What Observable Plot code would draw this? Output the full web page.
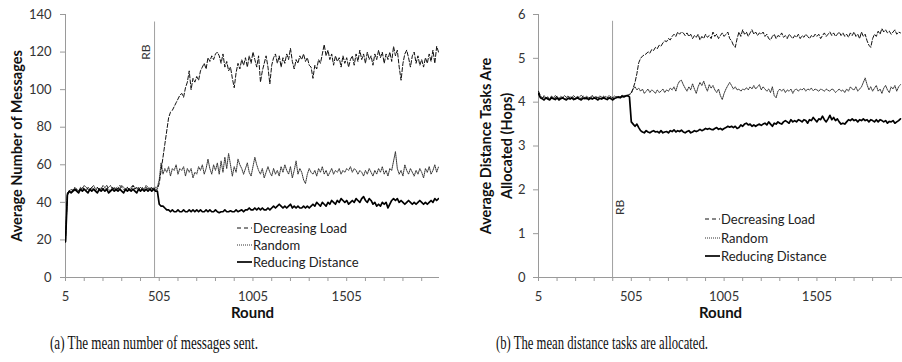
<!DOCTYPE html>
<html><head><meta charset="utf-8">
<script src="https://cdn.jsdelivr.net/npm/d3@7"></script>
<script src="https://cdn.jsdelivr.net/npm/@observablehq/plot@0.6"></script>
<style>
body{margin:0;background:#fff;}
#wrap{position:relative;width:902px;height:362px;overflow:hidden;font-family:Lato,sans-serif;background:#fff;}
.chart{position:absolute;top:0;}
.legend{position:absolute;font-size:13px;color:#222;font-family:Lato,sans-serif;}
.legend .row{display:flex;align-items:center;white-space:nowrap;}
.legend svg{display:block;margin-right:1px;}
#caps{position:absolute;left:0;top:0;}
#caps text{font-family:"Liberation Serif","Times New Roman","DejaVu Serif",serif;}
</style></head><body><div id="wrap"></div>
<script>
// ---------- data (sampled every 10 rounds, starting at round 5) ----------
const roundStart = 5, roundStep = 10;
const seriesNames = ["Decreasing Load", "Random", "Reducing Distance"];
const xMajorTicks = [5, 505, 1005, 1505];
const xMinorTicks = [5,105,205,305,405,505,605,705,805,905,1005,1105,1205,1305,1405,1505,1605,1705,1805,1905];
const msgTicks = [0,20,40,60,80,100,120,140];
const hopTicks = [0,1,2,3,4,5,6];
const captions = ["(a) The mean number of messages sent.", "(b) The mean distance tasks are allocated."];
const msgTitle = "Average Number of Messages";
const hopTitle = ["Average Distance Tasks Are", "Allocated (Hops)"];
const xTitle = "Round";
const msgRB = 480, hopRB = 404;

const msgDecreasing = [19,45,46,45,47,46,47,46,47,48,47,46,48,47,48,47,46,48,47,48,47,48,49,47,46,48,47,48,47,49,48,47,46,48,47,48,49,47,48,47,48,47,46,48,47,48,47,48,47,
47,50,57,64,71,78,85,88,89,91,
93,95,97,98,96,101,104,110,100,106,
104,107,105,110,112,114,111,117,115,118,
116,119,120,118,114,119,112,115,110,112,
106,101,109,114,111,116,113,117,112,118,
114,120,116,112,118,104,110,114,118,112,
103,113,117,119,114,118,112,117,114,119,
116,122,115,111,116,114,118,116,119,115,
117,113,112,106,113,111,116,114,119,124,
118,121,116,119,113,118,115,117,112,118,
114,117,112,116,118,113,119,115,121,116,
119,114,120,116,118,113,119,116,121,117,
120,114,119,116,120,115,123,118,121,112,
105,114,119,121,117,112,118,120,114,118,
113,116,112,117,114,119,115,121,114,123,
120];
const msgRandom = [19,45,46,47,46,48,47,46,48,47,49,48,47,46,48,49,47,48,46,47,49,48,47,48,49,47,48,46,48,47,49,48,47,48,46,47,49,48,47,48,46,48,47,49,48,47,48,47,48,
48,52,61,55,58,56,59,54,58,57,
60,55,58,57,59,54,58,56,58,53,
56,55,59,57,60,55,58,63,58,55,
60,57,61,55,62,56,64,58,66,60,
54,59,56,63,60,58,55,58,61,56,
54,59,64,60,57,55,58,53,56,59,
56,54,58,55,57,54,59,56,60,57,
55,59,53,57,62,55,58,56,52,50,
55,58,56,55,57,54,58,56,59,55,
57,54,56,58,55,57,56,58,55,57,
56,58,57,59,56,58,57,55,57,56,
54,57,55,58,56,54,57,55,58,56,
59,55,57,54,58,57,62,67,58,55,
57,54,60,57,55,58,56,54,57,55,
58,56,53,58,56,59,55,57,60,56,
59];
const msgReducing = [19,44,46,45,46,47,46,45,47,46,47,46,45,47,46,47,46,45,47,46,47,46,47,45,46,47,46,47,46,47,46,45,47,46,47,46,47,46,45,47,46,47,46,47,46,47,46,47,46,
46,39,38,38,37,36,36,35,36,35,
35,36,35,35,36,35,35,36,35,36,
35,36,35,36,35,35,36,35,36,35,
35,36,35,34.5,35,35,36,35,35,35.5,
35,35,36,35,35.5,36,35,36,36,37,
36,36,37,36,37,36,37,36,36,37,
36,37,38,37,38,39,38,37,38,37,
38,39,37,38,37,38,37,37,38,37,
38,37,38,39,38,40,39,38,40,39,
38,40,39,41,40,39,41,40,42,41,
40,41,39,40,41,40,42,41,40,42,
43,41,40,42,41,39,40,38,39,38,
40,39,40,37,39,41,42,41,42,40,
41,40,39,40,41,40,39,40,39,40,
41,40,39,40,39,40,41,40,42,41,
42];

const hopDecreasing = [4.25,4.15,4.1,4.12,4.08,4.1,4.05,4.12,4.08,4.1,4.14,4.07,4.1,4.12,4.06,4.1,4.08,4.13,4.09,4.1,4.06,4.12,4.1,4.08,4.14,4.1,4.07,4.11,4.09,4.13,4.08,4.1,4.12,4.07,4.1,4.14,4.09,4.11,4.08,4.12,4.1,4.07,4.13,4.1,4.12,4.15,4.13,4.16,4.15,
4.17,4.2,4.32,4.45,4.65,4.9,5.0,5.05,5.08,5.1,
5.15,5.12,5.2,5.18,5.25,5.22,5.3,5.28,5.35,5.4,
5.38,5.45,5.42,5.5,5.55,5.5,5.6,5.55,5.6,5.58,
5.52,5.58,5.5,5.55,5.45,5.52,5.48,5.55,5.42,5.5,
5.45,5.55,5.48,5.52,5.45,5.6,5.5,5.55,5.45,5.52,
5.58,5.5,5.55,5.6,5.45,5.4,5.3,5.25,5.45,5.6,
5.5,5.65,5.55,5.6,5.5,5.58,5.65,5.55,5.6,5.52,
5.58,5.55,5.6,5.5,5.55,5.45,5.42,5.5,5.55,5.45,
5.52,5.5,5.58,5.48,5.52,5.45,5.55,5.5,5.45,5.52,
5.48,5.55,5.45,5.52,5.48,5.55,5.5,5.45,5.52,5.48,
5.55,5.5,5.55,5.45,5.52,5.58,5.5,5.55,5.6,5.52,
5.58,5.5,5.55,5.6,5.52,5.58,5.5,5.55,5.48,5.58,
5.52,5.6,5.5,5.55,5.45,5.6,5.5,5.55,5.4,5.3,
5.25,5.45,5.55,5.5,5.62,5.55,5.68,5.6,5.65,5.58,
5.62,5.55,5.6,5.65,5.55,5.6,5.58];
const hopRandom = [4.2,4.12,4.08,4.15,4.1,4.12,4.08,4.14,4.1,4.15,4.12,4.08,4.13,4.1,4.15,4.11,4.14,4.09,4.12,4.15,4.1,4.13,4.11,4.16,4.12,4.1,4.14,4.09,4.12,4.15,4.11,4.13,4.1,4.14,4.12,4.09,4.13,4.11,4.15,4.12,4.1,4.14,4.11,4.13,4.12,4.16,4.14,4.15,4.16,
4.18,4.22,4.3,4.35,4.28,4.32,4.25,4.3,4.2,4.25,
4.3,4.22,4.28,4.25,4.2,4.28,4.22,4.25,4.3,4.22,
4.28,4.25,4.32,4.28,4.35,4.25,4.4,4.48,4.5,4.4,
4.32,4.25,4.35,4.28,4.42,4.3,4.2,4.35,4.45,4.38,
4.48,4.35,4.25,4.4,4.32,4.38,4.28,4.22,4.3,4.15,
4.06,4.2,4.3,4.38,4.45,4.38,4.3,4.35,4.28,4.3,
4.25,4.3,4.28,4.33,4.28,4.35,4.3,4.38,4.3,4.35,
4.4,4.28,4.35,4.3,4.25,4.3,4.22,4.35,4.15,4.1,
4.25,4.3,4.25,4.3,4.22,4.28,4.25,4.3,4.2,4.28,
4.3,4.25,4.3,4.28,4.32,4.25,4.3,4.28,4.32,4.26,
4.3,4.28,4.25,4.3,4.28,4.25,4.3,4.27,4.25,4.3,
4.28,4.22,4.26,4.3,4.25,4.28,4.22,4.3,4.25,4.35,
4.3,4.28,4.35,4.25,4.3,4.35,4.45,4.55,4.4,4.28,
4.35,4.25,4.32,4.38,4.25,4.3,4.2,4.32,4.38,4.28,
4.22,4.35,4.3,4.38,4.25,4.35,4.4];
const hopReducing = [4.2,4.1,4.08,4.05,4.1,4.07,4.05,4.1,4.08,4.06,4.1,4.05,4.08,4.1,4.07,4.05,4.09,4.07,4.1,4.06,4.08,4.1,4.07,4.05,4.09,4.08,4.1,4.06,4.09,4.07,4.1,4.08,4.05,4.09,4.07,4.1,4.08,4.06,4.1,4.08,4.05,4.09,4.1,4.12,4.1,4.13,4.12,4.14,4.15,
4.12,3.55,3.5,3.45,3.5,3.42,3.35,3.32,3.3,3.35,
3.32,3.3,3.33,3.35,3.32,3.33,3.3,3.35,3.3,3.32,
3.33,3.3,3.35,3.33,3.37,3.32,3.35,3.33,3.36,3.32,
3.3,3.33,3.35,3.3,3.32,3.35,3.33,3.35,3.38,3.35,
3.37,3.4,3.38,3.4,3.38,3.37,3.4,3.42,3.38,3.4,
3.37,3.4,3.42,3.45,3.43,3.45,3.42,3.45,3.4,3.42,
3.48,3.45,3.5,3.52,3.48,3.5,3.45,3.48,3.45,3.48,
3.5,3.47,3.5,3.52,3.48,3.55,3.5,3.45,3.52,3.5,
3.55,3.52,3.5,3.55,3.58,3.55,3.52,3.6,3.55,3.58,
3.55,3.6,3.58,3.55,3.6,3.58,3.52,3.6,3.58,3.65,
3.6,3.55,3.62,3.6,3.68,3.6,3.55,3.62,3.7,3.6,
3.65,3.58,3.62,3.55,3.5,3.52,3.5,3.55,3.6,3.58,
3.62,3.58,3.6,3.55,3.6,3.58,3.62,3.58,3.6,3.55,
3.6,3.58,3.55,3.6,3.55,3.6,3.58,3.55,3.58,3.52,
3.56,3.55,3.58,3.52,3.55,3.58,3.62];

// ---------- drawing ----------
const pts = arr => arr.map((v, i) => ({round: roundStart + i * roundStep, v}));
const styles = {
  "Decreasing Load": {stroke: "#111", strokeWidth: 1, strokeDasharray: "4,2"},
  "Random": {stroke: "#333", strokeWidth: 1, strokeDasharray: "1,1"},
  "Reducing Distance": {stroke: "#000", strokeWidth: 1.7, strokeDasharray: null}
};
const axisGray = "#9a9a9a";

function makeChart(o) {
  const lines = [["Random", o.random], ["Decreasing Load", o.decreasing], ["Reducing Distance", o.reducing]]
    .map(([name, arr]) => Plot.line(pts(arr), {x: "round", y: "v", clip: true, ...styles[name]}));
  const titleMarks = o.title.map((t, i) => Plot.text([t], {
    frameAnchor: "left", dx: o.titleDx[i], rotate: -90, textAnchor: "middle", lineAnchor: "middle",
    fontWeight: "bold", fontSize: 14.5, fill: "#111"
  }));
  return Plot.plot({
    width: o.width, height: 320,
    marginLeft: o.marginLeft, marginRight: o.marginRight, marginTop: 14, marginBottom: 43,
    style: {fontFamily: "Lato, sans-serif", fontSize: "13px", color: "#333", background: "transparent", overflow: "visible"},
    x: {domain: o.xDomain},
    y: {domain: o.yDomain},
    marks: [
      Plot.axisX({ticks: xMinorTicks, tickSize: 4, tickFormat: () => "", stroke: axisGray, label: null}),
      Plot.axisX({ticks: xMajorTicks, tickSize: 0, tickPadding: 14, tickFormat: d => String(d), label: null, fill: "#333"}),
      Plot.axisY({ticks: o.yTicks, tickSize: 5, tickPadding: o.yPad, tickFormat: d => String(d), label: null, stroke: axisGray, fill: "#333"}),
      Plot.ruleY([0], {stroke: axisGray}),
      Plot.ruleX([o.xDomain[0]], {stroke: axisGray}),
      Plot.ruleX([o.rb], {y1: 0, y2: o.rbTop, stroke: "#a0a0a0", strokeWidth: 1}),
      Plot.text([{x: o.rb, y: o.rbLabelY}], {x: "x", y: "y", text: () => "RB", rotate: -90, dx: o.rbDx, fontSize: 12, fill: "#333"}),
      ...lines,
      ...titleMarks,
      Plot.text([xTitle], {frameAnchor: "bottom", dy: 35.5, lineAnchor: "middle", textAnchor: "middle", fontWeight: "bold", fontSize: 15, fill: "#111"})
    ]
  });
}

const wrap = document.getElementById("wrap");

const left = makeChart({
  width: 450, marginLeft: 65, marginRight: 11, xDomain: [5, 2000], yDomain: [0, 140], yTicks: msgTicks, yPad: 9,
  decreasing: msgDecreasing, random: msgRandom, reducing: msgReducing,
  rb: msgRB, rbTop: 136, rbLabelY: 120, rbDx: -8,
  title: [msgTitle], titleDx: [-48]
});
left.classList.add("chart"); left.style.left = "0px";
wrap.appendChild(left);

const right = makeChart({
  width: 452, marginLeft: 88, marginRight: 0, xDomain: [5, 1966], yDomain: [0, 6], yTicks: hopTicks, yPad: 8,
  decreasing: hopDecreasing, random: hopRandom, reducing: hopReducing,
  rb: hopRB, rbTop: 5.845, rbLabelY: 1.6, rbDx: 8,
  title: hopTitle, titleDx: [-52, -31]
});
right.classList.add("chart"); right.style.left = "450px";
wrap.appendChild(right);

// legends
function legend(x, top, rowH) {
  const div = document.createElement("div");
  div.className = "legend";
  div.style.left = x + "px"; div.style.top = top + "px";
  seriesNames.forEach(name => {
    const s = styles[name];
    const row = document.createElement("div");
    row.className = "row"; row.style.height = rowH + "px";
    row.innerHTML = `<svg width="15" height="10"><line x1="0" x2="15" y1="5" y2="5" stroke="${s.stroke}" stroke-width="${s.strokeWidth}" ${s.strokeDasharray ? `stroke-dasharray="${s.strokeDasharray === "4,2" ? "4,3" : s.strokeDasharray}"` : ""}/></svg><span>${name}</span>`;
    div.appendChild(row);
  });
  wrap.appendChild(div);
}
legend(237, 219.5, 17);
legend(705, 210, 18.4);

// captions
const ns = "http://www.w3.org/2000/svg";
const caps = document.createElementNS(ns, "svg");
caps.setAttribute("id", "caps"); caps.setAttribute("width", 902); caps.setAttribute("height", 362);
[[50, 208], [496, 212]].forEach(([x, len], i) => {
  const t = document.createElementNS(ns, "text");
  t.setAttribute("x", x); t.setAttribute("y", 349);
  t.setAttribute("font-size", 18);
  t.setAttribute("textLength", len); t.setAttribute("lengthAdjust", "spacingAndGlyphs");
  t.setAttribute("fill", "#111");
  t.textContent = captions[i];
  caps.appendChild(t);
});
caps.style.pointerEvents = "none";
wrap.appendChild(caps);
</script>
</body></html>
